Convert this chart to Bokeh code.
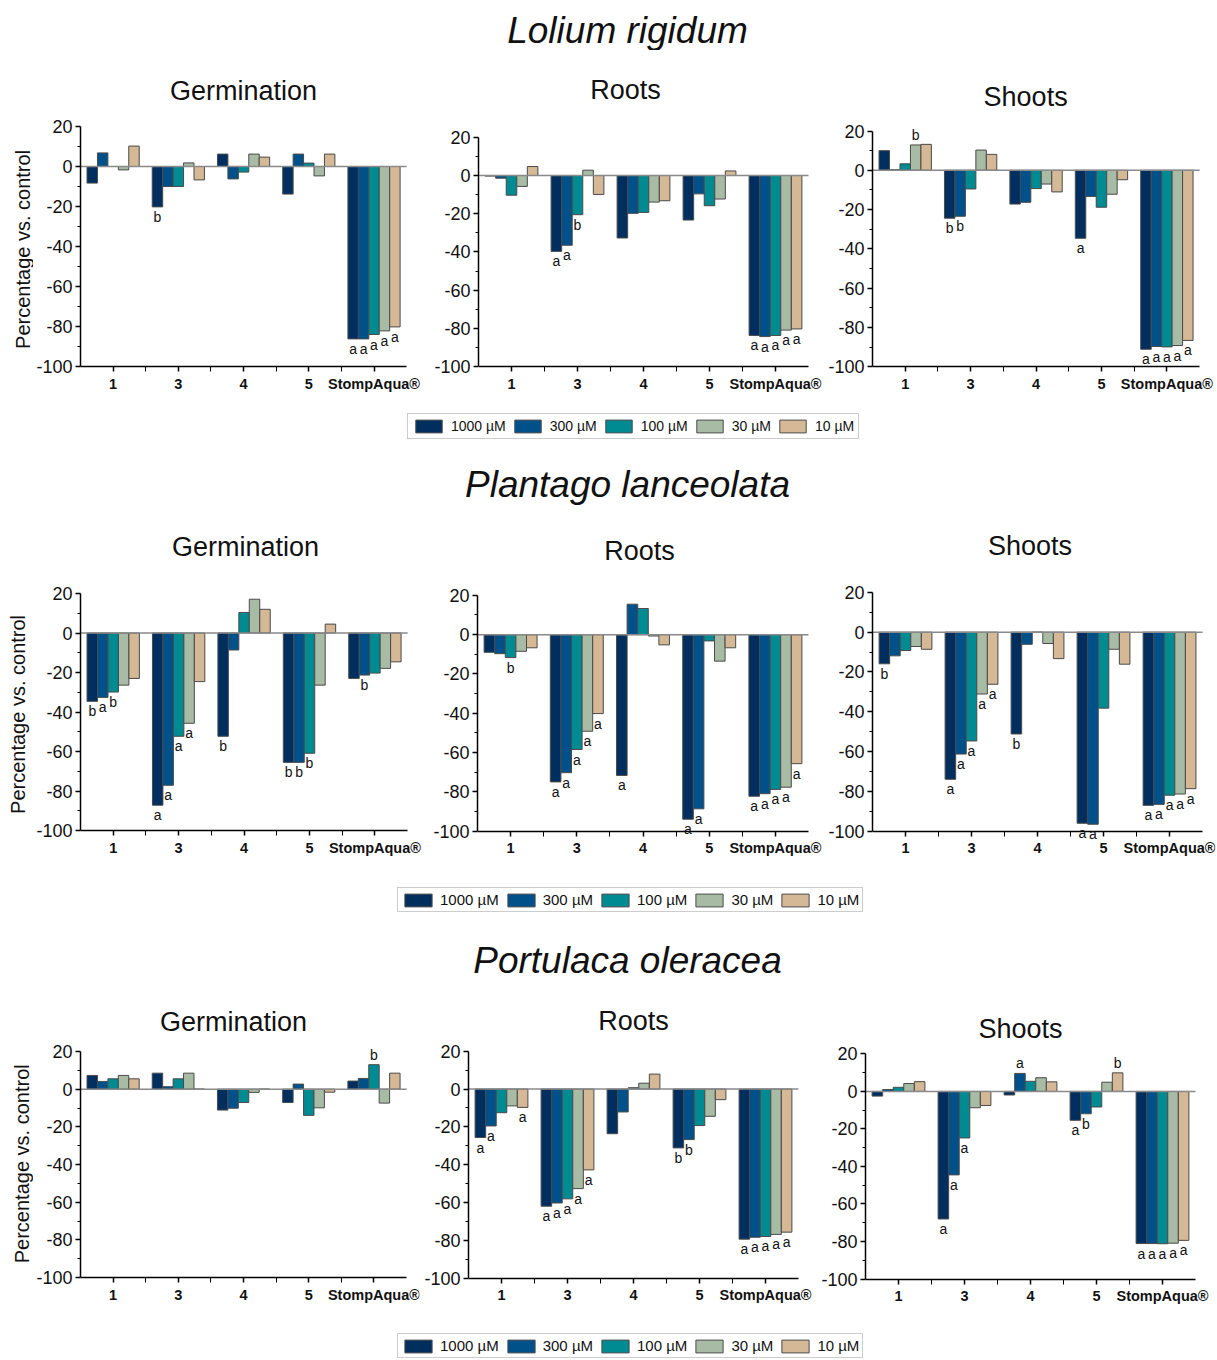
import numpy as np
from bokeh.plotting import figure
from bokeh.models import (ColumnDataSource, Range1d, FixedTicker, Label, LabelSet,
                          Legend, LegendItem)
from bokeh.layouts import row, column
from bokeh.transform import dodge
from bokeh.core.properties import value
from bokeh.embed import file_html
from bokeh.resources import INLINE

# ---------------- data ----------------
compounds = ["1", "3", "4", "5", "StompAqua®"]
concentrations = ["1000 µM", "300 µM", "100 µM", "30 µM", "10 µM"]
species = ["Lolium rigidum", "Plantago lanceolata", "Portulaca oleracea"]
measures = ["Germination", "Roots", "Shoots"]
y_ticks = [-100, -80, -60, -40, -20, 0, 20]
y_minor = [-90, -70, -50, -30, -10, 10]
y_label = "Percentage vs. control"

# rows: 1000, 300, 100, 30, 10 µM ; columns: compounds
lolium_germination = [
    [-8.3, -20.2, 6.2, -13.8, -86.2],
    [6.8, -10.0, -6.2, 6.2, -86.2],
    [0.0, -10.0, -2.8, 1.7, -84.0],
    [-1.7, 1.8, 6.2, -4.7, -82.2],
    [10.2, -6.7, 4.7, 6.2, -80.2],
]
lolium_germination_letters = [
    ["", "b", "", "", "a"],
    ["", "", "", "", "a"],
    ["", "", "", "", "a"],
    ["", "", "", "", "a"],
    ["", "", "", "", "a"],
]
lolium_roots = [
    [-0.3, -39.7, -32.7, -23.3, -83.7],
    [-1.4, -36.5, -19.8, -9.6, -84.3],
    [-10.3, -20.5, -19.3, -15.8, -83.7],
    [-5.7, 2.8, -13.9, -12.3, -80.9],
    [4.7, -9.9, -13.2, 2.4, -80.3],
]
lolium_roots_letters = [
    ["", "a", "", "", "a"],
    ["", "a", "", "", "a"],
    ["", "b", "", "", "a"],
    ["", "", "", "", "a"],
    ["", "", "", "", "a"],
]
lolium_shoots = [
    [10.0, -24.4, -17.2, -34.6, -91.1],
    [0.3, -23.4, -16.3, -13.3, -89.7],
    [3.3, -9.5, -9.3, -18.8, -89.9],
    [12.9, 10.3, -7.0, -12.2, -89.2],
    [13.2, 8.1, -11.0, -4.8, -86.6],
]
lolium_shoots_letters = [
    ["", "b", "", "a", "a"],
    ["", "b", "", "", "a"],
    ["", "", "", "", "a"],
    ["b", "", "", "", "a"],
    ["", "", "", "", "a"],
]
plantago_germination = [
    [-34.6, -87.2, -52.3, -65.5, -23.0],
    [-32.6, -77.1, -8.6, -65.5, -21.3],
    [-29.9, -52.3, 10.4, -60.9, -20.3],
    [-26.4, -45.7, 17.1, -26.4, -17.9],
    [-23.0, -24.6, 12.0, 4.5, -14.6],
]
plantago_germination_letters = [
    ["b", "a", "b", "b", ""],
    ["a", "a", "", "b", "b"],
    ["b", "a", "", "b", ""],
    ["", "a", "", "", ""],
    ["", "", "", "", ""],
]
plantago_roots = [
    [-9.0, -75.0, -71.7, -94.0, -82.3],
    [-9.7, -70.3, 15.5, -88.7, -81.0],
    [-11.7, -58.5, 13.3, -3.2, -78.8],
    [-8.5, -49.2, -0.7, -13.5, -77.7],
    [-6.7, -40.2, -5.2, -6.7, -65.7],
]
plantago_roots_letters = [
    ["", "a", "a", "a", "a"],
    ["", "a", "", "a", "a"],
    ["b", "a", "", "", "a"],
    ["", "a", "", "", "a"],
    ["", "a", "", "", "a"],
]
plantago_shoots = [
    [-15.9, -74.0, -51.2, -96.1, -87.1],
    [-11.9, -61.3, -6.1, -96.6, -86.6],
    [-9.2, -54.7, 0.0, -38.2, -82.0],
    [-7.2, -31.1, -5.7, -8.6, -81.4],
    [-8.6, -26.2, -13.3, -16.1, -78.7],
]
plantago_shoots_letters = [
    ["b", "a", "b", "a", "a"],
    ["", "a", "", "a", "a"],
    ["", "a", "", "", "a"],
    ["", "a", "", "", "a"],
    ["", "a", "", "", "a"],
]
portulaca_germination = [
    [7.3, 8.5, -11.1, -7.1, 4.3],
    [4.1, 1.3, -10.1, 2.7, 5.7],
    [5.5, 5.5, -7.1, -13.9, 13.0],
    [7.3, 8.5, -1.7, -9.9, -7.4],
    [5.5, 0.0, 0.0, -1.6, 8.5],
]
portulaca_germination_letters = [
    ["", "", "", "", ""],
    ["", "", "", "", ""],
    ["", "", "", "", "b"],
    ["", "", "", "", ""],
    ["", "", "", "", ""],
]
portulaca_roots = [
    [-25.6, -61.9, -23.6, -31.1, -79.3],
    [-19.5, -60.2, -12.1, -26.7, -78.3],
    [-12.5, -58.0, 0.7, -19.3, -77.9],
    [-8.9, -52.6, 3.1, -14.4, -76.8],
    [-9.7, -42.7, 7.9, -5.6, -75.6],
]
portulaca_roots_letters = [
    ["a", "a", "", "b", "a"],
    ["a", "a", "", "b", "a"],
    ["", "a", "", "", "a"],
    ["", "a", "", "", "a"],
    ["a", "a", "", "", "a"],
]
portulaca_shoots = [
    [-2.5, -68.0, -1.9, -15.4, -81.1],
    [1.0, -44.5, 9.6, -11.9, -81.1],
    [2.2, -24.8, 5.4, -8.3, -81.2],
    [4.2, -8.7, 7.3, 4.9, -80.9],
    [5.2, -7.5, 5.1, 9.9, -79.4],
]
portulaca_shoots_letters = [
    ["", "a", "", "a", "a"],
    ["", "a", "a", "b", "a"],
    ["", "a", "", "", "a"],
    ["", "", "", "", "a"],
    ["", "", "", "b", "a"],
]

# ---------------- style ----------------
COLORS = ["#002F5F", "#00518A", "#008A91", "#A8BCA5", "#D5B895"]
EDGE = "#4a4a4a"
FONT = "Liberation Sans"
TXT = "#111111"
BAR_W = 0.16
OFFSETS = [-0.32, -0.16, 0.0, 0.16, 0.32]
PAGE_W = 1216
TOPB = 28
EXT = 28
RB = 1
NCAT = len(compounds)
xs = list(range(1, NCAT + 1))
X_LO, X_HI = 0.5, NCAT + 0.5


def bare(fig):
    fig.outline_line_color = None
    fig.xgrid.visible = False
    fig.ygrid.visible = False
    return fig


def panel(vals, lets, fig_x, row_y, frame, subtitle, sub_c):
    """frame = (px of left axis end, px of top tick, px of right axis end, px of bottom tick)."""
    fx0, fx1 = fig_x
    ry0, ry1 = row_y
    x0, y_hi, x1, y_lo = frame
    ppx = (x1 - x0) / (X_HI - X_LO)
    ppu = (y_lo - y_hi) / (y_ticks[-1] - y_ticks[0])
    x_end = X_HI + (fx1 - RB - x1) / ppx
    y_end = y_ticks[-1] + (y_hi - (ry0 + TOPB)) / ppu
    y_start = y_ticks[0] - EXT / ppu
    p = bare(figure(width=fx1 - fx0, height=ry1 - ry0, title=None,
                    x_range=Range1d(X_LO, x_end), y_range=Range1d(y_start, y_end),
                    min_border_left=x0 - fx0, min_border_right=RB,
                    min_border_top=TOPB, min_border_bottom=ry1 - y_lo - EXT,
                    output_backend="svg", toolbar_location=None, tools=""))

    for j, color in enumerate(COLORS):
        src = ColumnDataSource(dict(x=xs, top=vals[j]))
        p.vbar(x=dodge("x", OFFSETS[j], range=p.x_range), top="top", bottom=0,
               width=BAR_W, source=src, fill_color=color, line_color=EDGE, line_width=1)
        neg = dict(x=[], y=[], t=[])
        pos = dict(x=[], y=[], t=[])
        for xx, v, l in zip(xs, vals[j], lets[j]):
            if not l:
                continue
            d = neg if v < 0 else pos
            d["x"].append(xx); d["y"].append(v); d["t"].append(l)
        for d, base, off in ((neg, "top", -2), (pos, "bottom", 2)):
            if d["x"]:
                p.add_layout(LabelSet(x=dodge("x", OFFSETS[j], range=p.x_range), y="y", text="t",
                                      source=ColumnDataSource(d), text_align="center",
                                      text_baseline=base, y_offset=off,
                                      text_font=value(FONT), text_font_size=value("14px"),
                                      text_color=TXT))

    # zero reference line across the axis extent
    p.segment(x0=[X_LO], x1=[X_HI], y0=[0], y1=[0], line_color="#8a8a8a", line_width=1.5)

    xa = p.xaxis[0]
    ya = p.yaxis[0]
    xa.ticker = FixedTicker(ticks=xs, minor_ticks=[x + 0.5 for x in xs[:-1]])
    xa.major_label_overrides = {x: c for x, c in zip(xs, compounds)}
    xa.fixed_location = y_ticks[0]
    xa.bounds = (X_LO, X_HI)
    ya.ticker = FixedTicker(ticks=y_ticks, minor_ticks=y_minor)
    ya.major_label_overrides = {v: str(v) for v in y_ticks}
    ya.bounds = (y_ticks[0], y_ticks[-1])
    for ax in (xa, ya):
        ax.axis_line_color = "black"
        ax.axis_line_width = 1.5
        ax.major_tick_line_color = "black"
        ax.major_tick_line_width = 1.5
        ax.minor_tick_line_color = "black"
        ax.minor_tick_line_width = 1
        ax.major_tick_in = 0
        ax.major_tick_out = 5
        ax.minor_tick_in = 0
        ax.minor_tick_out = 3
        ax.major_label_text_font = FONT
        ax.major_label_text_color = TXT
        ax.major_label_standoff = 3
    xa.minor_tick_out = 5
    xa.major_label_text_font_size = "14.5px"
    xa.major_label_text_font_style = "bold"
    xa.major_label_standoff = 4
    ya.major_label_text_font_size = "18px"

    # panel subtitle, placed inside the frame (above the axis bounds)
    sx = X_LO + (sub_c[0] - x0) / ppx
    sy = y_ticks[0] + (y_lo - sub_c[1]) / ppu
    p.add_layout(Label(x=sx, y=sy, text=subtitle, text_align="center", text_baseline="middle",
                       text_font=FONT, text_font_size="27px", text_color=TXT))
    return p


def pixel_fig(fig_x, fig_y):
    fx0, fx1 = fig_x
    fy0, fy1 = fig_y
    return bare(figure(width=fx1 - fx0, height=fy1 - fy0, title=None,
                       x_range=Range1d(fx0, fx1), y_range=Range1d(fy1, fy0),
                       min_border=0, x_axis_location=None, y_axis_location=None,
                       output_backend="svg", toolbar_location=None, tools=""))


def ylabel_fig(fig_x, row_y, center):
    s = pixel_fig(fig_x, row_y)
    s.add_layout(Label(x=center[0], y=center[1], text=y_label, angle=np.pi / 2,
                       text_align="center", text_baseline="middle",
                       text_font=FONT, text_font_size="20px", text_color=TXT))
    return s


def strip(fy, texts, legend=None):
    s = pixel_fig((0, PAGE_W), fy)
    for text, (cx, cy), size, style in texts:
        s.add_layout(Label(x=cx, y=cy, text=text, text_align="center", text_baseline="middle",
                           text_font=FONT, text_font_size=size, text_font_style=style,
                           text_color=TXT))
    if legend is not None:
        box_left, box_bottom, font_size, pad, gw, stand = legend
        items = []
        for conc, color in zip(concentrations, COLORS):
            r = s.vbar(x=np.array([np.nan]), top=np.array([np.nan]), width=1,
                       fill_color=color, line_color=EDGE, line_width=1)
            items.append(LegendItem(label=conc, renderers=[r]))
        leg = Legend(items=items, orientation="horizontal",
                     location=(box_left, fy[1] - box_bottom),
                     glyph_width=gw, glyph_height=16, label_height=16, label_standoff=stand,
                     spacing=5, padding=pad, margin=0,
                     border_line_color="#9a9a9a", border_line_width=1.5,
                     label_text_font=FONT, label_text_font_size=font_size,
                     label_text_color=TXT, background_fill_color="white")
        s.add_layout(leg)
    return s


datasets = [
    [(lolium_germination, lolium_germination_letters),
     (lolium_roots, lolium_roots_letters),
     (lolium_shoots, lolium_shoots_letters)],
    [(plantago_germination, plantago_germination_letters),
     (plantago_roots, plantago_roots_letters),
     (plantago_shoots, plantago_shoots_letters)],
    [(portulaca_germination, portulaca_germination_letters),
     (portulaca_roots, portulaca_roots_letters),
     (portulaca_shoots, portulaca_shoots_letters)],
]

# ---------------- layout (page pixel coordinates) ----------------
TITLE_SIZE = "37px"
species_pos = [(627, 30), (627, 484), (627, 960)]
strip_y = [(0, 50), (405, 505), (875, 980), (1330, 1359)]
legend_box = [(407, 439, "14px", 4, 33, 6), (397, 912, "15px", 3, 34, 5),
              (397, 1358, "15px", 3, 34, 5)]
row_y = [(50, 405), (505, 875), (980, 1330)]
ylab_w = 33
ylab_c = [(22, 242), (17, 711), (21, 1163)]
row_figs = [
    [((ylab_w, 430), (78, 126, 406, 366), (242, 90)),
     ((430, 825), (478, 137, 808, 367), (625, 90)),
     ((825, PAGE_W), (870, 131, 1199, 369), (1024, 97))],
    [((ylab_w, 430), (78, 593, 407, 830), (244, 546)),
     ((430, 825), (477, 596, 808, 836), (639, 551)),
     ((825, PAGE_W), (871, 593, 1202, 836), (1029, 546))],
    [((ylab_w, 420), (78, 1051, 406, 1277), (232, 1021)),
     ((420, 815), (468, 1052, 798, 1286), (633, 1021)),
     ((815, PAGE_W), (865, 1056, 1195, 1294), (1020, 1030))],
]

children = []
for ri in range(3):
    texts = [(species[ri], species_pos[ri], TITLE_SIZE, "italic")]
    children.append(strip(strip_y[ri], texts, legend_box[ri - 1] if ri > 0 else None))
    figs = [ylabel_fig((0, ylab_w), row_y[ri], ylab_c[ri])]
    for ci, (fxr, frame, subc) in enumerate(row_figs[ri]):
        vals, lets = datasets[ri][ci]
        figs.append(panel(vals, lets, fxr, row_y[ri], frame, measures[ci], subc))
    children.append(row(*figs))
children.append(strip(strip_y[3], [], legend_box[2]))

layout = column(*children)
open("out.html", "w").write(file_html(layout, INLINE))
